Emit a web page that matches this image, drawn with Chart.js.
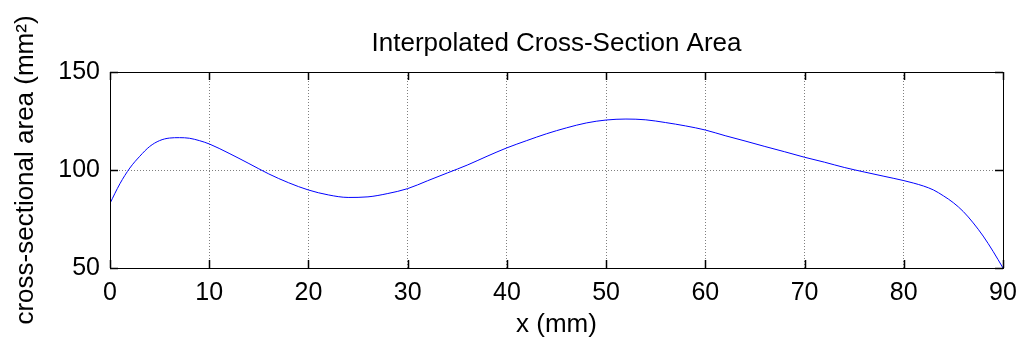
<!DOCTYPE html>
<html>
<head>
<meta charset="utf-8">
<script src="https://cdn.jsdelivr.net/npm/chart.js@4"></script>
<style>
  html, body { margin: 0; padding: 0; background: #fff; }
  #wrap { width: 1019px; height: 340px; }
</style>
</head>
<body>
<div id="wrap"><canvas id="myChart"></canvas></div>
<script>
// ------------------ DATA ------------------ //
const xPositions = [0, 1, 2, 3, 4, 5, 6, 7, 8, 9, 10, 12, 14, 16, 18, 20, 22, 24, 26, 28,
  30, 32, 34, 36, 38, 40, 42, 44, 46, 48, 50, 52, 54, 56, 58, 60, 62, 64, 66, 68,
  70, 72, 74, 76, 78, 80, 81, 82, 83, 84, 85, 86, 87, 88, 89, 90];
const areaValues = [83, 93, 101, 107, 112, 115, 116.3, 116.5, 116.2, 115, 113.3, 108.5, 103.3, 98, 93.5, 89.8, 87.3, 86, 86.3, 88,
  90.5, 94.5, 98.5, 102.5, 107, 111.3, 115, 118.5, 121.5, 124, 125.5, 126, 125.6, 124.2, 122.5, 120.4, 117.5, 114.8, 112, 109.3,
  106.5, 104, 101.3, 99, 96.8, 94.6, 93.3, 91.8, 89.8, 86.8, 83.3, 78.8, 73, 66.3, 58.5, 50];
const xTicks = [0, 10, 20, 30, 40, 50, 60, 70, 80, 90];
const yTicks = [50, 100, 150];

const chartTitle = "Interpolated Cross-Section Area";
const xTitle = "x (mm)";
const yTitle = "cross-sectional area (mm\u00B2)";

const FONT = "'Liberation Sans', Arial, sans-serif";

// box round the plot, inward tick marks (matlab style) and title centred over the plot
const boxPlugin = {
  id: "box",
  afterDraw(chart) {
    const { ctx, chartArea: a, scales } = chart;
    const len = 8;
    ctx.save();
    ctx.strokeStyle = "#000";
    ctx.lineWidth = 1.5;
    ctx.beginPath();
    xTicks.forEach(v => {
      const px = Math.round(scales.x.getPixelForValue(v)) + 0.5;
      ctx.moveTo(px, a.bottom); ctx.lineTo(px, a.bottom - len);
      ctx.moveTo(px, a.top); ctx.lineTo(px, a.top + len);
    });
    yTicks.forEach(v => {
      const py = Math.round(scales.y.getPixelForValue(v)) + 0.5;
      ctx.moveTo(a.left, py); ctx.lineTo(a.left + len, py);
      ctx.moveTo(a.right, py); ctx.lineTo(a.right - len, py);
    });
    ctx.stroke();
    ctx.lineWidth = 1;
    ctx.strokeRect(Math.round(a.left) + 0.5, Math.round(a.top) + 0.5,
      Math.round(a.right - a.left), Math.round(a.bottom - a.top));

    ctx.fillStyle = "#000";
    ctx.font = "26px " + FONT;
    ctx.textAlign = "center";
    ctx.textBaseline = "alphabetic";
    ctx.fillText(chartTitle, (a.left + a.right) / 2, 51);
    ctx.restore();
  }
};

const ctx = document.getElementById("myChart").getContext("2d");
let chart = new Chart(ctx, {
  type: "line",
  data: {
    datasets: [{
      label: "area",
      data: xPositions.map((x, i) => ({ x: x, y: areaValues[i] })),
      borderColor: "#0000ff",
      borderWidth: 1,
      pointRadius: 0,
      cubicInterpolationMode: "monotone",
      fill: false
    }]
  },
  options: {
    responsive: true,
    maintainAspectRatio: false,
    animation: false,
    layout: { padding: { left: 0, right: 16, top: 72, bottom: 0 } },
    plugins: {
      legend: { display: false },
      tooltip: { enabled: false },
      title: { display: false }
    },
    scales: {
      x: {
        type: "linear",
        min: 0,
        max: 90,
        afterFit: s => { s.height = 72; s.paddingLeft = 0; s.paddingRight = 0; },
        afterBuildTicks: s => { s.ticks = xTicks.map(v => ({ value: v })); },
        ticks: { color: "#000", padding: 10, font: { family: FONT, size: 25 }, maxRotation: 0 },
        grid: { color: "rgba(0,0,0,0.5)", lineWidth: 1, drawTicks: false },
        border: { display: false, dash: [1, 2] },
        title: {
          display: true, text: xTitle, color: "#000",
          font: { family: FONT, size: 26 }, padding: { top: 0, bottom: 0 }
        }
      },
      y: {
        min: 50,
        max: 150,
        afterFit: s => { s.width = 110; s.paddingTop = 0; s.paddingBottom = 0; },
        afterBuildTicks: s => { s.ticks = yTicks.map(v => ({ value: v })); },
        ticks: { color: "#000", padding: 10, font: { family: FONT, size: 25 } },
        grid: { color: "rgba(0,0,0,0.5)", lineWidth: 1, drawTicks: false },
        border: { display: false, dash: [1, 2] },
        title: {
          display: true, text: yTitle, color: "#000",
          font: { family: FONT, size: 26 }, padding: { top: 10, bottom: 0 }
        }
      }
    }
  },
  plugins: [boxPlugin]
});
</script>
</body>
</html>
